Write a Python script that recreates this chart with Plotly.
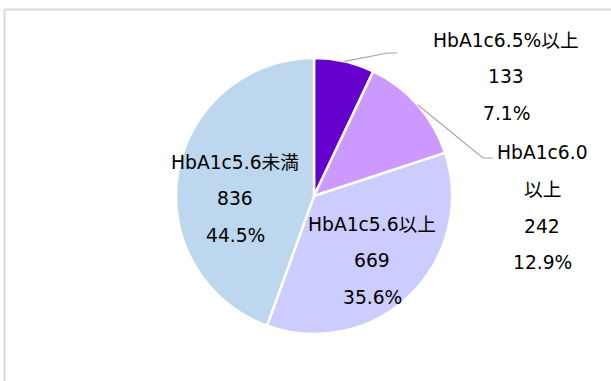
import math
import plotly.graph_objects as go

# Slices, clockwise from 12 o'clock
categories = ["HbA1c6.5%以上", "HbA1c6.0<br>以上", "HbA1c5.6以上", "HbA1c5.6未満"]
counts = [133, 242, 669, 836]
colors = ["#6600CC", "#CC99FF", "#CCCCFF", "#BDD7EE"]

W, H = 611, 381
CX, CY, R = 314, 196, 138          # pie centre / radius in pixels
LINE_GAP = 36.5                     # spacing between label lines

# label block: centre x, first-line y (pixels)
label_pos = [(506, 40), (542, 153), (372, 224), (235, 162)]
# leader-line elbow for outside labels (None = label inside the slice)
elbows = [((388, 53), (397, 53)), ((483, 158), (493, 158)), None, None]

FONT = dict(family="DejaVu Sans, Noto Sans CJK JP, sans-serif", size=18.7, color="#000000")


def px(x):
    return x / W


def py(y):
    return 1 - y / H


fig = go.Figure(go.Pie(
    labels=[c.replace("<br>", "") for c in categories],
    values=counts,
    sort=False,
    direction="clockwise",
    rotation=0,
    marker=dict(colors=colors, line=dict(color="#FFFFFF", width=2.5)),
    textinfo="none",
    hoverinfo="none",
    showlegend=False,
    domain=dict(x=[px(CX - R), px(CX + R)], y=[py(CY + R), py(CY - R)]),
))

total = sum(counts)
annotations = []
shapes = []
cum = 0
for cat, v, (lx, ly), elbow in zip(categories, counts, label_pos, elbows):
    lines = cat.split("<br>") + [str(v), f"{v / total * 100:.1f}%"]
    for i, t in enumerate(lines):
        annotations.append(dict(
            x=px(lx), y=py(ly + i * LINE_GAP), xref="paper", yref="paper",
            text=t, showarrow=False, xanchor="center", yanchor="middle", font=FONT,
        ))
    mid = (cum + v / 2) / total * 2 * math.pi
    cum += v
    if elbow:
        sx, sy = CX + R * math.sin(mid), CY - R * math.cos(mid)
        (ex, ey), (hx, hy) = elbow
        shapes.append(dict(
            type="path", xref="paper", yref="paper",
            path=f"M {px(sx)} {py(sy)} L {px(ex)} {py(ey)} L {px(hx)} {py(hy)}",
            line=dict(color="#A6A6A6", width=1.2),
        ))

# chart-area frame (top and left edges visible)
shapes.append(dict(type="line", xref="paper", yref="paper",
                   x0=px(4.5), y0=py(9.5), x1=1.05, y1=py(9.5),
                   line=dict(color="#D9D9D9", width=1.8)))
shapes.append(dict(type="line", xref="paper", yref="paper",
                   x0=px(4.5), y0=py(9.5), x1=px(4.5), y1=-0.05,
                   line=dict(color="#D9D9D9", width=1.8)))

fig.update_layout(
    width=W, height=H,
    margin=dict(l=0, r=0, t=0, b=0),
    paper_bgcolor="#FFFFFF",
    plot_bgcolor="#FFFFFF",
    annotations=annotations,
    shapes=shapes,
)

fig.write_html("out.html")
